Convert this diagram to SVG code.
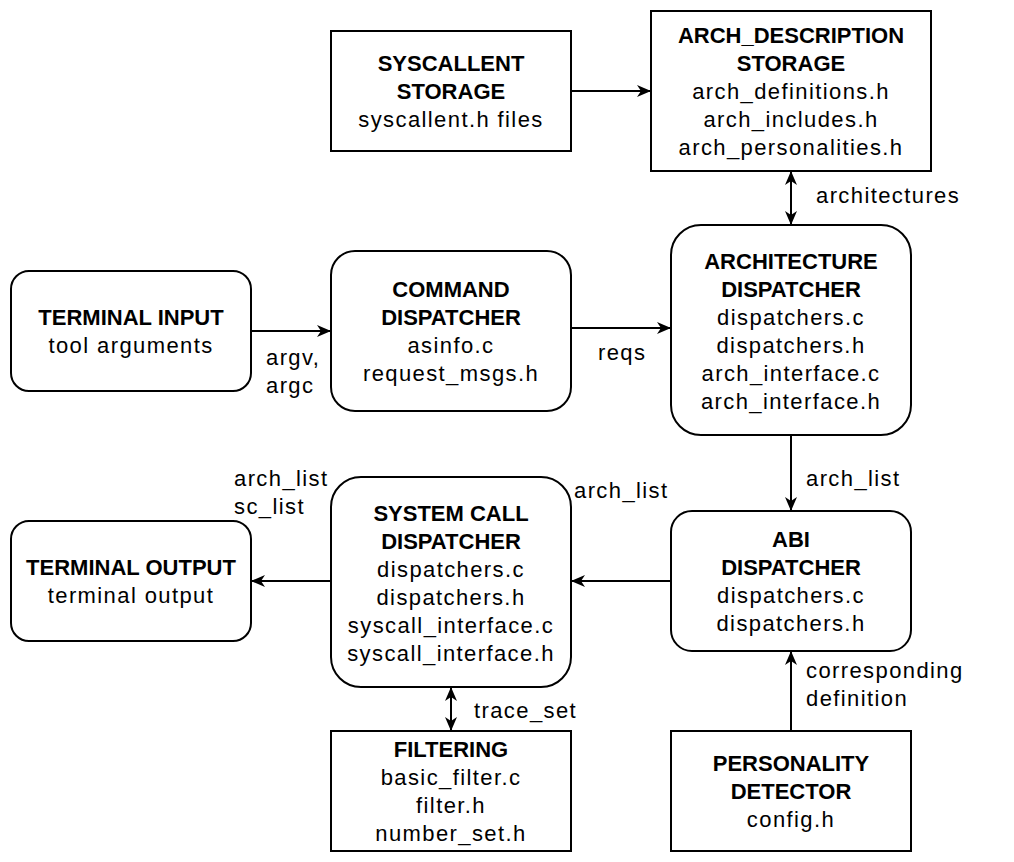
<svg xmlns="http://www.w3.org/2000/svg" width="1014" height="862" viewBox="0 0 1014 862">
<style>
.box{fill:#fff;stroke:#000;stroke-width:2}
text{font-family:"Liberation Sans",Arial,sans-serif;font-size:22px;fill:#000}
.c{text-anchor:middle}
.b{font-weight:bold}
.r{letter-spacing:1.4px}
.e{stroke:#000;stroke-width:2;fill:none}
</style>
<defs>
<marker id="ah" viewBox="0 0 14 12" refX="14" refY="6" markerWidth="14" markerHeight="12" markerUnits="userSpaceOnUse" orient="auto-start-reverse">
<path d="M0,0 L14,6 L0,12 L4,6 Z" fill="#000"/>
</marker>
</defs>
<rect width="1014" height="862" fill="#fff"/>
<g id="connectors">
<path class="e" d="M571,91 H651" marker-end="url(#ah)"/>
<path class="e" d="M791,171 V225" marker-start="url(#ah)" marker-end="url(#ah)"/>
<path class="e" d="M251,331 H331" marker-end="url(#ah)"/>
<path class="e" d="M571,328 H671" marker-end="url(#ah)"/>
<path class="e" d="M791,435 V511" marker-end="url(#ah)"/>
<path class="e" d="M671,581 H571" marker-end="url(#ah)"/>
<path class="e" d="M331,581 H251" marker-end="url(#ah)"/>
<path class="e" d="M451,687 V731" marker-start="url(#ah)" marker-end="url(#ah)"/>
<path class="e" d="M791,731 V651" marker-end="url(#ah)"/>
<text class="r" x="816" y="203">architectures</text>
<text class="r" x="266" y="365">argv,</text>
<text class="r" x="266" y="393">argc</text>
<text class="r" x="598" y="360">reqs</text>
<text class="r" x="806" y="486">arch_list</text>
<text class="r" x="574" y="498">arch_list</text>
<text class="r" x="234" y="486">arch_list</text>
<text class="r" x="234" y="514">sc_list</text>
<text class="r" x="474" y="718">trace_set</text>
<text class="r" x="806" y="678">corresponding</text>
<text class="r" x="806" y="706">definition</text>
</g>
<g id="syscallent-storage">
<rect class="box" x="331" y="31" width="240" height="120"/>
<text class="c b" x="451" y="71">SYSCALLENT</text>
<text class="c b" x="451" y="99">STORAGE</text>
<text class="c r" x="451" y="127">syscallent.h files</text>
</g>
<g id="arch-description-storage">
<rect class="box" x="651" y="11" width="280" height="160"/>
<text class="c b" x="791" y="43">ARCH_DESCRIPTION</text>
<text class="c b" x="791" y="71">STORAGE</text>
<text class="c r" x="791" y="99">arch_definitions.h</text>
<text class="c r" x="791" y="127">arch_includes.h</text>
<text class="c r" x="791" y="155">arch_personalities.h</text>
</g>
<g id="terminal-input">
<rect class="box" x="11" y="271" width="240" height="120" rx="18"/>
<text class="c b" x="131" y="325">TERMINAL INPUT</text>
<text class="c r" x="131" y="353">tool arguments</text>
</g>
<g id="command-dispatcher">
<rect class="box" x="331" y="251" width="240" height="160" rx="24"/>
<text class="c b" x="451" y="297">COMMAND</text>
<text class="c b" x="451" y="325">DISPATCHER</text>
<text class="c r" x="451" y="353">asinfo.c</text>
<text class="c r" x="451" y="381">request_msgs.h</text>
</g>
<g id="architecture-dispatcher">
<rect class="box" x="671" y="225" width="240" height="210" rx="30"/>
<text class="c b" x="791" y="269">ARCHITECTURE</text>
<text class="c b" x="791" y="297">DISPATCHER</text>
<text class="c r" x="791" y="325">dispatchers.c</text>
<text class="c r" x="791" y="353">dispatchers.h</text>
<text class="c r" x="791" y="381">arch_interface.c</text>
<text class="c r" x="791" y="409">arch_interface.h</text>
</g>
<g id="terminal-output">
<rect class="box" x="11" y="521" width="240" height="120" rx="18"/>
<text class="c b" x="131" y="575">TERMINAL OUTPUT</text>
<text class="c r" x="131" y="603">terminal output</text>
</g>
<g id="system-call-dispatcher">
<rect class="box" x="331" y="477" width="240" height="210" rx="30"/>
<text class="c b" x="451" y="521">SYSTEM CALL</text>
<text class="c b" x="451" y="549">DISPATCHER</text>
<text class="c r" x="451" y="577">dispatchers.c</text>
<text class="c r" x="451" y="605">dispatchers.h</text>
<text class="c r" x="451" y="633">syscall_interface.c</text>
<text class="c r" x="451" y="661">syscall_interface.h</text>
</g>
<g id="abi-dispatcher">
<rect class="box" x="671" y="511" width="240" height="140" rx="21"/>
<text class="c b" x="791" y="547">ABI</text>
<text class="c b" x="791" y="575">DISPATCHER</text>
<text class="c r" x="791" y="603">dispatchers.c</text>
<text class="c r" x="791" y="631">dispatchers.h</text>
</g>
<g id="filtering">
<rect class="box" x="331" y="731" width="240" height="120"/>
<text class="c b" x="451" y="757">FILTERING</text>
<text class="c r" x="451" y="785">basic_filter.c</text>
<text class="c r" x="451" y="813">filter.h</text>
<text class="c r" x="451" y="841">number_set.h</text>
</g>
<g id="personality-detector">
<rect class="box" x="671" y="731" width="240" height="120"/>
<text class="c b" x="791" y="771">PERSONALITY</text>
<text class="c b" x="791" y="799">DETECTOR</text>
<text class="c r" x="791" y="827">config.h</text>
</g>
</svg>
